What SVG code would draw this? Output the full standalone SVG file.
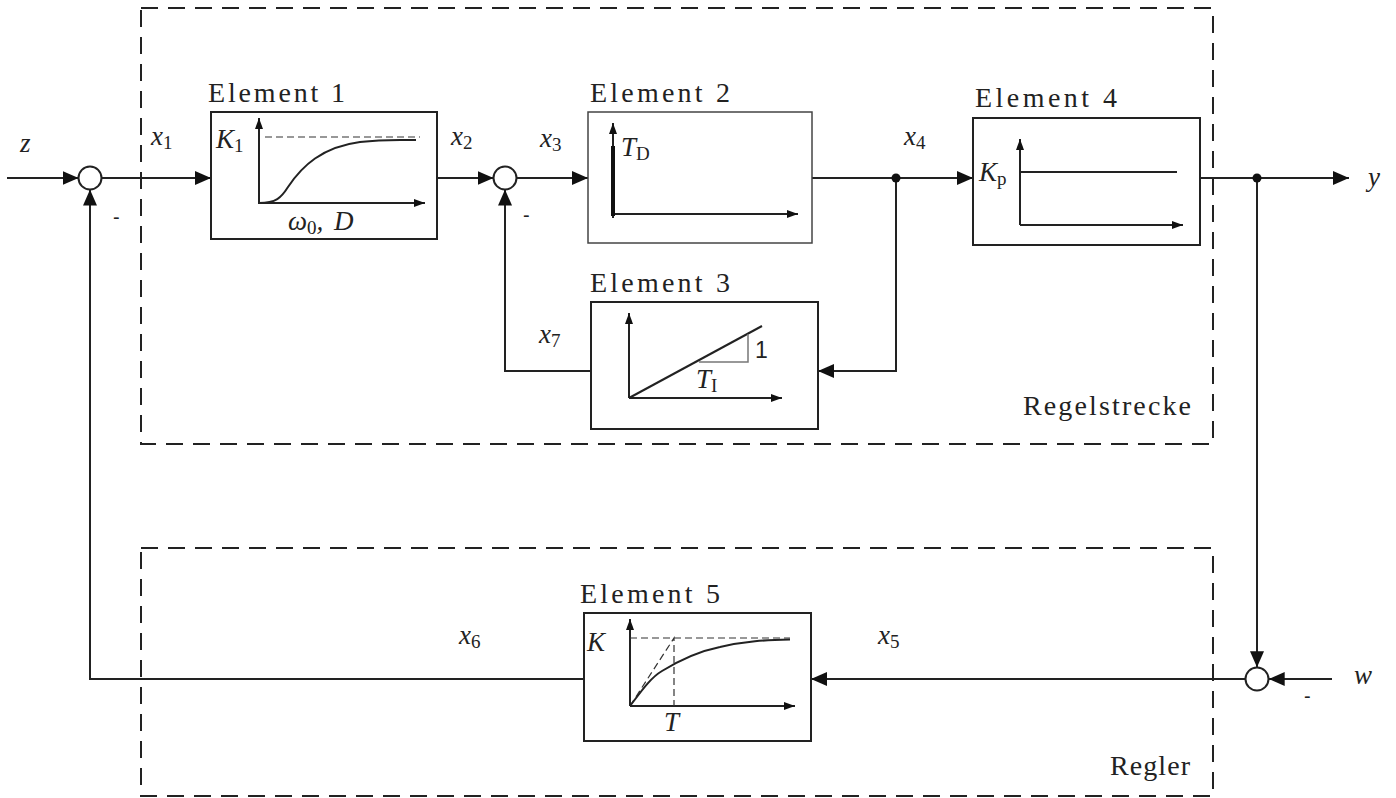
<svg xmlns="http://www.w3.org/2000/svg" width="1396" height="798" viewBox="0 0 1396 798">
<style>
.frame{fill:none;stroke:#222;stroke-width:2;stroke-dasharray:17 10}
.box{fill:#fff;stroke:#222;stroke-width:2}
.box2{fill:#fff;stroke:#444;stroke-width:1.5}
.ln{fill:none;stroke:#222;stroke-width:2}
.ax{fill:none;stroke:#222;stroke-width:2}
.dsh{fill:none;stroke:#333;stroke-width:1.2;stroke-dasharray:7 4}
.sum{fill:#fff;stroke:#222;stroke-width:2}
.lab{font-family:"Liberation Serif","DejaVu Serif",serif;font-size:28px;fill:#222}
.var{font-family:"Liberation Serif","DejaVu Serif",serif;font-size:27px;font-style:italic;fill:#222}
.sub{font-style:normal;font-size:19px}
.sign{font-family:"Liberation Sans",sans-serif;font-size:20px;fill:#222}
</style>
<defs>
<marker id="ah" viewBox="0 0 16 14" refX="16" refY="7" markerWidth="16" markerHeight="14" markerUnits="userSpaceOnUse" orient="auto"><path d="M0,0 L16,7 L0,14 z" fill="#111"/></marker>
<marker id="sa" viewBox="0 0 11 8" refX="11" refY="4" markerWidth="11" markerHeight="8" markerUnits="userSpaceOnUse" orient="auto"><path d="M0,0 L11,4 L0,8 z" fill="#111"/></marker>
</defs>

<g id="frames">
<rect class="frame" x="141" y="8" width="1072" height="436"/>
<rect class="frame" x="141" y="548" width="1072" height="248"/>
<text class="lab" x="1023" y="415" textLength="168">Regelstrecke</text>
<text class="lab" x="1110" y="775" textLength="80">Regler</text>
</g>

<g id="connectors">
<path class="ln" d="M7,178 L78.5,178" marker-end="url(#ah)"/>
<path class="ln" d="M101.5,178 L211,178" marker-end="url(#ah)"/>
<path class="ln" d="M437,178 L493.5,178" marker-end="url(#ah)"/>
<path class="ln" d="M516.5,178 L588,178" marker-end="url(#ah)"/>
<path class="ln" d="M812,178 L973,178" marker-end="url(#ah)"/>
<path class="ln" d="M1200,178 L1349,178" marker-end="url(#ah)"/>
<path class="ln" d="M896,178 L896,371 L818,371" marker-end="url(#ah)"/>
<path class="ln" d="M591,371 L505,371 L505,189.5" marker-end="url(#ah)"/>
<path class="ln" d="M1257,178 L1257,667.3" marker-end="url(#ah)"/>
<path class="ln" d="M1332,679 L1268.7,679" marker-end="url(#ah)"/>
<path class="ln" d="M1245.3,679 L811,679" marker-end="url(#ah)"/>
<path class="ln" d="M584,679 L90,679 L90,189.5" marker-end="url(#ah)"/>
<circle cx="896" cy="178" r="4.5" fill="#111"/>
<circle cx="1257" cy="178" r="4.5" fill="#111"/>
</g>

<g id="sum1"><circle class="sum" cx="90" cy="178" r="11.5"/><text class="sign" x="113" y="224">-</text></g>
<g id="sum2"><circle class="sum" cx="505" cy="178" r="11.5"/><text class="sign" x="523" y="222">-</text></g>
<g id="sum3"><circle class="sum" cx="1257" cy="679" r="11.5"/><text class="sign" x="1304" y="703">-</text></g>

<g id="signals">
<text class="var" x="20" y="152">z</text>
<text class="var" x="151" y="145">x<tspan class="sub" dy="4">1</tspan></text>
<text class="var" x="451" y="145">x<tspan class="sub" dy="4">2</tspan></text>
<text class="var" x="540" y="147">x<tspan class="sub" dy="4">3</tspan></text>
<text class="var" x="904" y="145">x<tspan class="sub" dy="4">4</tspan></text>
<text class="var" x="539" y="343">x<tspan class="sub" dy="4">7</tspan></text>
<text class="var" x="459" y="644">x<tspan class="sub" dy="4">6</tspan></text>
<text class="var" x="878" y="644">x<tspan class="sub" dy="4">5</tspan></text>
<text class="var" x="1368" y="186">y</text>
<text class="var" x="1354" y="684">w</text>
</g>

<g id="element1">
<text class="lab" x="208" y="102" textLength="137">Element 1</text>
<rect class="box" x="211" y="112" width="226" height="127"/>
<path class="ax" d="M259,204 L259,118" marker-end="url(#sa)"/>
<path class="ax" d="M259,203 L425,203" marker-end="url(#sa)"/>
<path class="dsh" d="M265,137 L420,137"/>
<path class="ln" d="M259,203 C276,203 281,198 288,187 C302,166 322,147 360,142 C385,139 400,140 416,140"/>
<text class="var" x="216" y="148">K<tspan class="sub" dy="4">1</tspan></text>
<text class="var" x="288" y="230">ω<tspan class="sub" dy="4">0</tspan><tspan dy="-4">, </tspan><tspan dx="4">D</tspan></text>
</g>

<g id="element2">
<text class="lab" x="590" y="102" textLength="140">Element 2</text>
<rect class="box2" x="588" y="112" width="224" height="131"/>
<path class="ax" d="M613,218 L613,123" marker-end="url(#sa)"/>
<path class="ax" d="M612,214 L798,214" marker-end="url(#sa)"/>
<path d="M613,146 L613,216" stroke="#111" stroke-width="4"/>
<text class="var" x="621" y="156">T<tspan class="sub" dy="4">D</tspan></text>
</g>

<g id="element3">
<text class="lab" x="590" y="292" textLength="140">Element 3</text>
<rect class="box" x="591" y="302" width="227" height="127"/>
<path class="ax" d="M629,398 L629,313" marker-end="url(#sa)"/>
<path class="ax" d="M629,398 L782,398" marker-end="url(#sa)"/>
<path class="ln" d="M629,398 L762,326"/>
<path d="M699,362 L748,362 L748,334" fill="none" stroke="#777" stroke-width="1.5"/>
<text x="755" y="358" font-family="Liberation Sans,Arial,sans-serif" font-size="23" fill="#222">1</text>
<text class="var" x="696" y="388">T<tspan class="sub" dy="4">I</tspan></text>
</g>

<g id="element4">
<text class="lab" x="975" y="107" textLength="142">Element 4</text>
<rect class="box" x="973" y="118" width="227" height="127"/>
<path class="ax" d="M1020,225 L1020,139" marker-end="url(#sa)"/>
<path class="ax" d="M1020,225 L1183,225" marker-end="url(#sa)"/>
<path class="ln" d="M1020,172 L1177,172"/>
<text class="var" x="979" y="181">K<tspan class="sub" dy="4">p</tspan></text>
</g>

<g id="element5">
<text class="lab" x="580" y="603" textLength="140">Element 5</text>
<rect class="box" x="584" y="613" width="227" height="128"/>
<path class="ax" d="M630,706 L630,619" marker-end="url(#sa)"/>
<path class="ax" d="M630,706 L795,706" marker-end="url(#sa)"/>
<path class="dsh" d="M630,638 L790,638"/>
<path class="dsh" d="M630,706 L674,638 L674,706"/>
<path class="ln" d="M630,706 C640,693 650,678 662,671 C680,660 700,651 720,647 C745,641 765,640 790,639.5"/>
<text class="var" x="587" y="651">K</text>
<text class="var" x="664" y="731">T</text>
</g>
</svg>
